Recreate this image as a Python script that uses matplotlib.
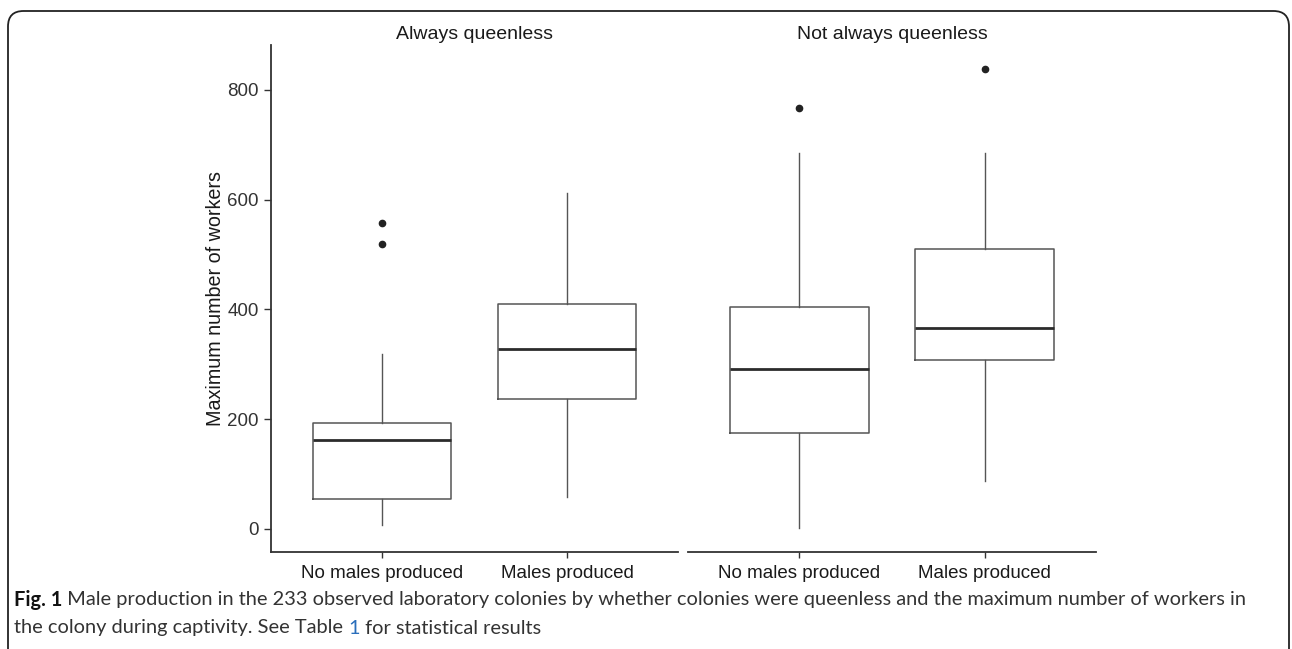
import matplotlib
matplotlib.use('Agg')
import matplotlib.pyplot as plt
from matplotlib.patches import FancyBboxPatch

# -----------------------------------------------------------------------------
panels = ['Always queenless', 'Not always queenless']
groups = ['No males produced', 'Males produced']

# per panel, per group: lower whisker, Q1, median, Q3, upper whisker
whislo = [[7, 58], [1, 87]]
q1 = [[55, 237], [175, 308]]
med = [[163, 328], [291, 367]]
q3 = [[194, 410], [404, 511]]
whishi = [[319, 613], [686, 686]]
fliers = [[[520, 558], []], [[768], [838]]]

yticks = [0, 200, 400, 600, 800]
ylabel = 'Maximum number of workers'
caption_bold = 'Fig. 1'
caption_1 = ' Male production in the 233 observed laboratory colonies by whether colonies were queenless and the maximum number of workers in'
caption_2a = 'the colony during captivity. See Table '
caption_2b = '1'
caption_2c = ' for statistical results'

W, H = 1292, 649
FONT = 'Liberation Sans'
box_col = '#555555'


def place_run(fig, renderer, x, y, pieces):
    # draw text pieces one after another on a line, in pixels
    for txt, kw in pieces:
        t = fig.text(x / W, 1 - y / H, txt, va='center', ha='left', **kw)
        bb = t.get_window_extent(renderer=renderer)
        x += bb.width
    return x


def make_plot():
    fig = plt.figure(figsize=(W / 100, H / 100), dpi=100)
    fig.patch.set_facecolor('white')

    # rounded frame around the figure, open at the bottom edge
    frame = FancyBboxPatch((8 / W, -20 / H), 1281 / W, (H - 11 + 20) / H,
                           boxstyle='round,pad=0,rounding_size=0.012',
                           transform=fig.transFigure, fill=False,
                           edgecolor='#222222', linewidth=1.3,
                           mutation_aspect=W / H, zorder=0)
    fig.patches.append(frame)

    ax_pos = [(271, 407), (688, 408)]
    top, bottom = 45, 552
    axes = []
    for p in range(2):
        x0, w = ax_pos[p]
        ax = fig.add_axes([x0 / W, 1 - bottom / H, w / W, (bottom - top) / H])
        stats = []
        for g in range(2):
            stats.append({'med': med[p][g], 'q1': q1[p][g], 'q3': q3[p][g],
                          'whislo': whislo[p][g], 'whishi': whishi[p][g],
                          'fliers': fliers[p][g]})
        ax.bxp(stats, positions=[1, 2], widths=0.75, showcaps=False,
               boxprops=dict(color=box_col, linewidth=1.1),
               whiskerprops=dict(color=box_col, linewidth=1.0),
               medianprops=dict(color='#2b2b2b', linewidth=2.0),
               flierprops=dict(marker='o', markersize=4.5,
                               markerfacecolor='#222222',
                               markeredgecolor='#222222'))
        ax.set_xlim(0.4, 2.6)
        ax.set_ylim(-42, 882)
        ax.set_xticks([1, 2])
        ax.set_xticklabels(groups, fontsize=13.5, fontfamily=FONT, color='#1a1a1a')
        for s in ['top', 'right']:
            ax.spines[s].set_visible(False)
        ax.spines['bottom'].set_color('#333333')
        ax.spines['bottom'].set_linewidth(1.3)
        ax.tick_params(axis='x', length=4, width=1, color='#333333', pad=5)
        if p == 0:
            ax.set_yticks(yticks)
            ax.set_yticklabels([str(v) for v in yticks], fontsize=13.5,
                               fontfamily=FONT, color='#333333')
            ax.tick_params(axis='y', length=5, width=1, color='#333333', pad=4)
            ax.spines['left'].set_color('#333333')
            ax.spines['left'].set_linewidth(1.3)
            ax.set_ylabel(ylabel, fontsize=14.2, fontfamily=FONT, color='#1a1a1a', labelpad=1.5)
        else:
            ax.spines['left'].set_visible(False)
            ax.set_yticks([])
        ax.set_title(panels[p], fontsize=14, fontfamily=FONT, color='#1a1a1a', pad=4)
        ax.set_facecolor('none')
        axes.append(ax)

    fig.canvas.draw()
    renderer = fig.canvas.get_renderer()
    fs = 14.4
    cap_kw = dict(fontsize=fs, fontfamily='Lato', color='#333333')
    place_run(fig, renderer, 14, 600, [
        (caption_bold, dict(fontsize=fs, fontfamily='Lato', fontweight='bold', color='#111111')),
        (caption_1, cap_kw)])
    place_run(fig, renderer, 14, 628, [
        (caption_2a, cap_kw),
        (caption_2b, dict(fontsize=fs, fontfamily='Lato', color='#2a6ebb')),
        (caption_2c, cap_kw)])

    fig.savefig('out.png', dpi=100, facecolor='white')


# -----------------------------------------------------------------------------
if __name__ == '__main__':
    make_plot()
